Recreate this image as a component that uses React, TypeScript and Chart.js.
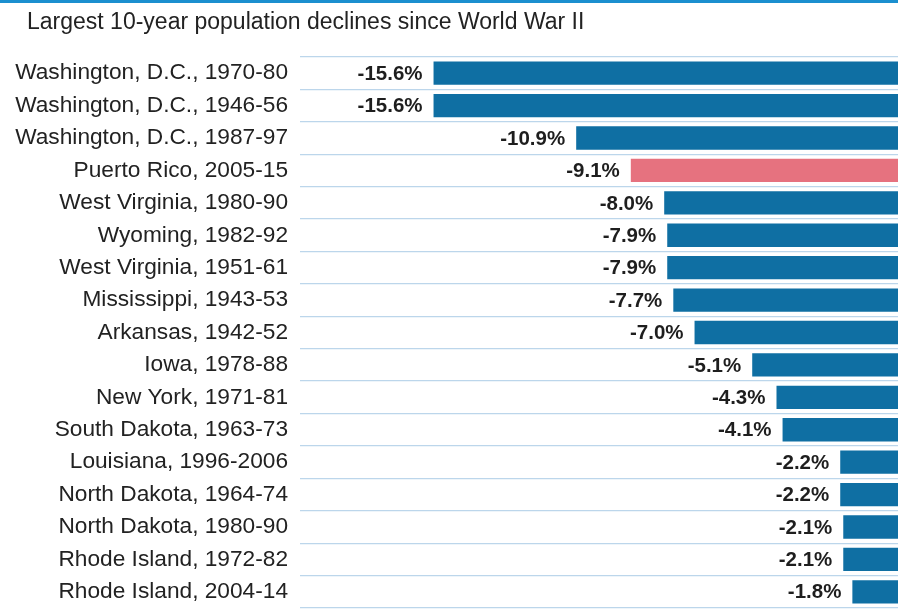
import React, { useEffect, useRef } from "react";
import { Chart, registerables } from "chart.js";

Chart.register(...registerables);

const titleText = "Largest 10-year population declines since World War II";

const categories = [
  "Washington, D.C., 1970-80",
  "Washington, D.C., 1946-56",
  "Washington, D.C., 1987-97",
  "Puerto Rico, 2005-15",
  "West Virginia, 1980-90",
  "Wyoming, 1982-92",
  "West Virginia, 1951-61",
  "Mississippi, 1943-53",
  "Arkansas, 1942-52",
  "Iowa, 1978-88",
  "New York, 1971-81",
  "South Dakota, 1963-73",
  "Louisiana, 1996-2006",
  "North Dakota, 1964-74",
  "North Dakota, 1980-90",
  "Rhode Island, 1972-82",
  "Rhode Island, 2004-14",
];

const values = [
  -15.6, -15.6, -10.9, -9.1, -8.0, -7.9, -7.9, -7.7, -7.0, -5.1, -4.3, -4.1,
  -2.2, -2.2, -2.1, -2.1, -1.8,
];

const highlighted = ["Puerto Rico, 2005-15"];

const xMin = -20;
const xMax = 0;

const BLUE = "#0f6fa3";
const PINK = "#e6727f";
const FONT = "'Liberation Sans', Arial, sans-serif";

export default function App() {
  const ref = useRef<HTMLCanvasElement | null>(null);

  useEffect(() => {
    const canvas = ref.current;
    if (!canvas) return;

    const decor = {
      id: "decor",
      beforeDraw(chart: any) {
        const ctx = chart.ctx;
        ctx.save();
        ctx.fillStyle = "#ffffff";
        ctx.fillRect(0, 0, chart.width, chart.height);
        ctx.fillStyle = "#1b8fcf";
        ctx.fillRect(0, 0, 898, 3);
        ctx.fillStyle = "#222222";
        ctx.font = `23px ${FONT}`;
        ctx.textAlign = "left";
        ctx.textBaseline = "middle";
        ctx.fillText(titleText, 27, 23);
        ctx.restore();
      },
      afterDatasetsDraw(chart: any) {
        const ctx = chart.ctx;
        const meta = chart.getDatasetMeta(0);
        ctx.save();
        ctx.fillStyle = "#1e1e1e";
        ctx.font = `bold 20.5px ${FONT}`;
        ctx.textAlign = "right";
        ctx.textBaseline = "middle";
        meta.data.forEach((el: any, i: number) => {
          const v = values[i];
          ctx.fillText(`${v.toFixed(1)}%`, el.x - 11, el.y + 1);
        });
        ctx.restore();
      },
    };

    const chart = new Chart(canvas, {
      type: "bar",
      data: {
        labels: categories,
        datasets: [
          {
            data: values,
            backgroundColor: categories.map((c) =>
              highlighted.includes(c) ? PINK : BLUE
            ),
            borderWidth: 0,
            barPercentage: 0.72,
            categoryPercentage: 1,
          },
        ],
      },
      options: {
        indexAxis: "y",
        responsive: false,
        animation: false,
        devicePixelRatio: 1,
        layout: { padding: { top: 57, bottom: 8, left: 0, right: 0 } },
        plugins: {
          legend: { display: false },
          tooltip: { enabled: false },
          title: { display: false },
        },
        scales: {
          x: {
            display: false,
            min: xMin,
            max: xMax,
          },
          y: {
            type: "category",
            afterFit(scale: any) {
              scale.width = 300;
              scale.paddingTop = 0;
              scale.paddingBottom = 0;
            },
            border: { display: false },
            grid: {
              display: true,
              offset: true,
              drawTicks: false,
              color: "#bcd6eb",
              lineWidth: 1.3,
            },
            ticks: {
              padding: 12,
              color: "#222222",
              font: { family: FONT, size: 22.7 },
            },
          },
        },
      },
      plugins: [decor],
    });

    return () => chart.destroy();
  }, []);

  return (
    <div
      style={{
        position: "absolute",
        left: 0,
        top: 0,
        width: 898,
        height: 616,
        overflow: "hidden",
        background: "#ffffff",
      }}
    >
      <canvas
        ref={ref}
        width={907}
        height={616}
        style={{ display: "block", width: "907px", height: "616px" }}
      />
    </div>
  );
}
